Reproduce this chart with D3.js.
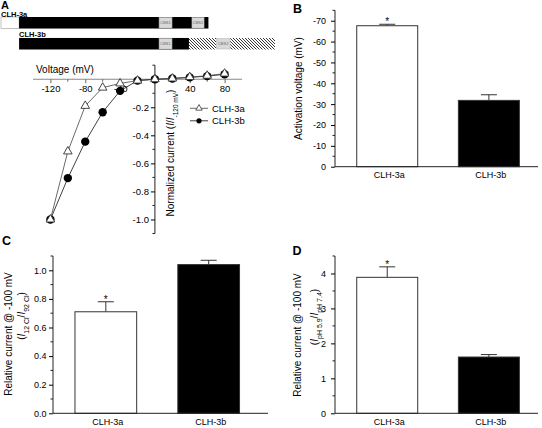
<!DOCTYPE html>
<html><head><meta charset="utf-8">
<script src="https://cdn.jsdelivr.net/npm/d3@7"></script>
<style>body{margin:0;background:#fff}svg{display:block;font-family:"Liberation Sans",Arial,sans-serif}</style>
</head><body><svg id="c" width="542" height="428"></svg>
<script>
// ---------- DATA ----------
// Panel A schematic (arbitrary residue units 0-1000)
const isoforms = ["CLH-3a", "CLH-3b"];
const segStart = [0, 66, 577, 697, 66, 577, 686, 786, 836];
const segEnd   = [66, 757, 624, 741, 686, 624, 785, 836, 1000];
const segIso   = ["CLH-3a","CLH-3a","CLH-3a","CLH-3a","CLH-3b","CLH-3b","CLH-3b","CLH-3b","CLH-3b"];
const segKind  = ["nterm","core","cbs","cbs","core","cbs","hatch","cbs","hatch"];
const segLabel = ["","","CBS1","CBS2","","CBS1","","CBS2",""];

// Panel A I-V curve
const voltages = [-120, -100, -80, -60, -40, -20, 0, 20, 40, 60, 80];
const ivA    = [-1.0, -0.515, -0.19, -0.06, -0.03, -0.01, 0, 0.005, 0.015, 0.025, 0.04];
const ivB    = [-1.0, -0.705, -0.445, -0.235, -0.083, -0.01, 0, 0.005, 0.013, 0.022, 0.035];
const ivErrA = [0, 0.012, 0.01, 0.006, 0.005, 0.003, 0, 0.003, 0.005, 0.006, 0.01];
const ivErrB = [0, 0.015, 0.02, 0.015, 0.012, 0.005, 0, 0.004, 0.006, 0.008, 0.012];
const ivXLabels = [-120, -80, -40, 40, 80];
const ivYLabels = [-1.0, -0.8, -0.6, -0.4, -0.2];

// Panels B-D
const barCats = ["CLH-3a", "CLH-3b"];
const activationV = [-67.6, -31.8];
const activationErr = [0.7, 2.7];
const clRatio = [0.71, 1.04];
const clErr = [0.07, 0.03];
const phRatio = [3.89, 1.61];
const phErr = [0.30, 0.07];
const bTicks = [0, -10, -20, -30, -40, -50, -60, -70];
const cTicks = [0, 0.2, 0.4, 0.6, 0.8, 1.0];
const dTicks = [0, 1, 2, 3, 4];

// ---------- DRAW ----------
const svg = d3.select("#c");
svg.append("rect").attr("width", 542).attr("height", 428).attr("fill", "#fff");

const defs = svg.append("defs");
const pat = defs.append("pattern").attr("id", "hatch").attr("patternUnits", "userSpaceOnUse")
  .attr("width", 3).attr("height", 3);
pat.append("rect").attr("width", 3).attr("height", 3).attr("fill", "#fff");
pat.append("path").attr("d", "M-1,-1 L4,4 M-1,2 L1,4 M2,-1 L4,1")
  .attr("stroke", "#222").attr("stroke-width", 0.9);

function letter(x, y, t, fs) {
  svg.append("text").attr("x", x).attr("y", y).attr("font-size", fs || 12.5)
    .attr("font-weight", "bold").text(t);
}

// ---- Panel A schematic ----
letter(1, 9, "A", 11);
const sx = d3.scaleLinear().domain([0, 1000]).range([1, 275]);
const sy = d3.scaleBand().domain(isoforms).range([17, 49.5]).paddingInner(0.45).paddingOuter(0);
const segs = segStart.map((s, i) => ({ s, e: segEnd[i], iso: segIso[i], kind: segKind[i], label: segLabel[i] }));
const order = ["nterm", "core", "hatch", "cbs"];
segs.sort((a, b) => order.indexOf(a.kind) - order.indexOf(b.kind));
const sg = svg.append("g");
sg.selectAll("rect").data(segs).join("rect")
  .attr("x", d => sx(d.s)).attr("width", d => sx(d.e) - sx(d.s))
  .attr("y", d => sy(d.iso) + (d.kind === "cbs" ? 0.5 : 0))
  .attr("height", d => sy.bandwidth() - (d.kind === "cbs" ? 1 : 0))
  .attr("fill", d => d.kind === "core" ? "#000" : d.kind === "hatch" ? "url(#hatch)" : d.kind === "cbs" ? "#d9d9d9" : "#fff")
  .attr("stroke", d => d.kind === "nterm" ? "#999" : d.kind === "cbs" ? "#bbb" : "none")
  .attr("stroke-width", 0.6);
sg.selectAll("text.cbs").data(segs.filter(d => d.label)).join("text")
  .attr("x", d => (sx(d.s) + sx(d.e)) / 2).attr("y", d => sy(d.iso) + sy.bandwidth() / 2 + 1.5)
  .attr("text-anchor", "middle").attr("font-size", 4).attr("fill", "#666").text(d => d.label);
svg.append("text").attr("x", 1).attr("y", 16.8).attr("font-size", 7.5).attr("font-weight", "bold").text("CLH-3a");
svg.append("text").attr("x", sx(66)).attr("y", 36.8).attr("font-size", 7.5).attr("font-weight", "bold").text("CLH-3b");

// ---- Panel A I-V ----
const ivX = d3.scaleLinear().domain([-140, 100]).range([33, 242]);
const ivY = d3.scaleLinear().domain([-1.1, 0.1]).range([233.5, 65.2]);
const iv = svg.append("g");
// x axis
iv.append("line").attr("x1", ivX(-140)).attr("x2", ivX(100)).attr("y1", ivY(0)).attr("y2", ivY(0))
  .attr("stroke", "#888").attr("stroke-width", 1.2);
const xa = iv.append("g").attr("transform", `translate(0,${ivY(0)})`)
  .call(d3.axisBottom(ivX).tickValues(ivXLabels).tickSize(4).tickPadding(2.5).tickFormat(d => String(d)));
xa.select(".domain").remove();
xa.selectAll("text").attr("font-size", 9.5).attr("font-family", null);
xa.selectAll("line").attr("stroke", "#666");
iv.selectAll("line.xm").data([-100, -60, -20, 20, 60]).join("line")
  .attr("x1", d => ivX(d)).attr("x2", d => ivX(d)).attr("y1", ivY(0)).attr("y2", ivY(0) + 2.5).attr("stroke", "#666");
// y axis
iv.append("line").attr("x1", ivX(0)).attr("x2", ivX(0)).attr("y1", ivY(0.1)).attr("y2", ivY(-1.1))
  .attr("stroke", "#222").attr("stroke-width", 1);
const ya = iv.append("g").attr("transform", `translate(${ivX(0)},0)`)
  .call(d3.axisLeft(ivY).tickValues(ivYLabels).tickSize(4).tickPadding(2).tickFormat(d => d.toFixed(1)));
ya.select(".domain").remove();
ya.selectAll("text").attr("font-size", 9.5).attr("font-family", null);
iv.selectAll("line.ym").data([0.1, -0.1, -0.3, -0.5, -0.7, -0.9, -1.1]).join("line")
  .attr("x1", ivX(0) - 2.5).attr("x2", ivX(0)).attr("y1", d => ivY(d)).attr("y2", d => ivY(d)).attr("stroke", "#222");
iv.append("text").attr("x", 36).attr("y", 73).attr("font-size", 10).text("Voltage (mV)");
const yt = iv.append("text").attr("transform", `translate(173.5,153) rotate(-90)`)
  .attr("text-anchor", "middle").attr("font-size", 10);
yt.append("tspan").text("Normalized current (");
yt.append("tspan").attr("font-style", "italic").text("I");
yt.append("tspan").text("/");
yt.append("tspan").attr("font-style", "italic").text("I");
yt.append("tspan").attr("font-size", 6.5).attr("baseline-shift", "sub").text("-120 mV");
yt.append("tspan").text(")");

const line = d3.line().x((d, i) => ivX(voltages[i])).y(d => ivY(d));
function errBars(vals, errs, col) {
  const g = iv.append("g").attr("stroke", col).attr("stroke-width", 0.8);
  vals.forEach((v, i) => {
    if (!errs[i]) return;
    const x = ivX(voltages[i]);
    g.append("line").attr("x1", x).attr("x2", x).attr("y1", ivY(v - errs[i])).attr("y2", ivY(v + errs[i]));
    [v - errs[i], v + errs[i]].forEach(e => g.append("line").attr("x1", x - 2).attr("x2", x + 2).attr("y1", ivY(e)).attr("y2", ivY(e)));
  });
}
// series B (circles)
iv.append("path").datum(ivB).attr("d", line).attr("fill", "none").attr("stroke", "#111").attr("stroke-width", 0.8);
errBars(ivB, ivErrB, "#111");
iv.selectAll("circle.b").data(ivB).join("circle").attr("cx", (d, i) => ivX(voltages[i])).attr("cy", d => ivY(d))
  .attr("r", 4.2).attr("fill", "#000");
// series A (triangles)
iv.append("path").datum(ivA).attr("d", line).attr("fill", "none").attr("stroke", "#444").attr("stroke-width", 0.8);
errBars(ivA, ivErrA, "#444");
const tri = d3.symbol().type(d3.symbolTriangle).size(32);
iv.selectAll("path.a").data(ivA).join("path").attr("d", tri)
  .attr("transform", (d, i) => `translate(${ivX(voltages[i])},${ivY(d)})`)
  .attr("fill", "#fff").attr("stroke", "#333").attr("stroke-width", 0.9);
// legend
const lg = iv.append("g").attr("font-size", 9.5);
[["CLH-3a", 108.3], ["CLH-3b", 120.8]].forEach(([name, y], k) => {
  lg.append("line").attr("x1", 190).attr("x2", 208).attr("y1", y).attr("y2", y).attr("stroke", k ? "#111" : "#444").attr("stroke-width", 0.8);
  if (k) lg.append("circle").attr("cx", 199).attr("cy", y).attr("r", 2.6).attr("fill", "#000");
  else lg.append("path").attr("d", d3.symbol().type(d3.symbolTriangle).size(18)).attr("transform", `translate(199,${y})`)
    .attr("fill", "#fff").attr("stroke", "#333").attr("stroke-width", 0.8);
  lg.append("text").attr("x", 212).attr("y", y + 3.5).text(name);
});

// ---- Bar panels ----
function barPanel(o) {
  const g = svg.append("g");
  const x = d3.scaleBand().domain(barCats).range(o.xr).paddingInner(0.4).paddingOuter(0.2);
  const y = d3.scaleLinear().domain(o.yd).range(o.yr);
  const sign = o.yd[1] < 0 ? -1 : 1;
  // error bars (behind bars)
  const eg = g.append("g").attr("stroke", "#333").attr("stroke-width", 1);
  o.vals.forEach((v, i) => {
    const cx = x(barCats[i]) + x.bandwidth() / 2;
    const top = y(v + sign * o.errs[i]);
    eg.append("line").attr("x1", cx).attr("x2", cx).attr("y1", y(v)).attr("y2", top);
    eg.append("line").attr("x1", cx - 8).attr("x2", cx + 8).attr("y1", top).attr("y2", top);
  });
  g.selectAll("rect.bar").data(o.vals).join("rect")
    .attr("x", (d, i) => x(barCats[i])).attr("width", x.bandwidth())
    .attr("y", d => Math.min(y(0), y(d))).attr("height", d => Math.abs(y(d) - y(0)))
    .attr("fill", (d, i) => i ? "#000" : "#fff").attr("stroke", "#333").attr("stroke-width", 1);
  // star
  const cx0 = x(barCats[0]) + x.bandwidth() / 2;
  g.append("text").attr("x", cx0).attr("y", y(o.vals[0] + sign * o.errs[0]) + 1).attr("text-anchor", "middle")
    .attr("font-size", 10).attr("fill", "#000").text("*");
  // axes
  g.append("line").attr("x1", o.ax).attr("x2", o.ax).attr("y1", o.yr[1]).attr("y2", y(0)).attr("stroke", "#222");
  g.append("line").attr("x1", o.ax).attr("x2", o.axR).attr("y1", y(0)).attr("y2", y(0)).attr("stroke", "#222");
  const a = g.append("g").attr("transform", `translate(${o.ax},0)`)
    .call(d3.axisLeft(y).tickValues(o.ticks).tickSize(4).tickPadding(o.pad).tickFormat(o.fmt));
  a.select(".domain").remove();
  a.selectAll("text").attr("font-size", 9).attr("font-family", null);
  g.selectAll("line.minor").data(o.minor).join("line")
    .attr("x1", o.ax - 2.5).attr("x2", o.ax).attr("y1", d => y(d)).attr("y2", d => y(d)).attr("stroke", "#222");
  g.selectAll("text.cat").data(barCats).join("text")
    .attr("x", d => x(d) + x.bandwidth() / 2 + 2).attr("y", y(0) + 11.5).attr("text-anchor", "middle")
    .attr("font-size", 9).text(d => d);
  return g;
}

// B
letter(293, 13, "B");
barPanel({ xr: [336.4, 539.7], yd: [0, -75], yr: [166.7, 10.3], ax: 335, axR: 538,
  vals: activationV, errs: activationErr, ticks: bTicks, pad: 5, fmt: d => String(d),
  minor: d3.range(-5, -76, -10) });
svg.append("text").attr("transform", "translate(301.5,88.5) rotate(-90)").attr("text-anchor", "middle")
  .attr("font-size", 10).text("Activation voltage (mV)");

// C
letter(2, 245, "C");
barPanel({ xr: [54.4, 260.1], yd: [0, 1.1], yr: [413.3, 256], ax: 53, axR: 268,
  vals: clRatio, errs: clErr, ticks: cTicks, pad: 2.6, fmt: d => d.toFixed(1),
  minor: [0.1, 0.3, 0.5, 0.7, 0.9, 1.1] });
svg.append("text").attr("transform", "translate(12,334) rotate(-90)").attr("text-anchor", "middle")
  .attr("font-size", 10).text("Relative current @ -100 mV");
const ct = svg.append("text").attr("transform", "translate(25,316) rotate(-90)").attr("text-anchor", "middle").attr("font-size", 10);
ct.append("tspan").text("(");
ct.append("tspan").attr("font-style", "italic").text("I");
ct.append("tspan").attr("font-size", 7).attr("baseline-shift", "sub").text("12 Cl");
ct.append("tspan").text("/");
ct.append("tspan").attr("font-style", "italic").text("I");
ct.append("tspan").attr("font-size", 7).attr("baseline-shift", "sub").text("92 Cl");
ct.append("tspan").text(")");

// D
letter(292.5, 255, "D");
barPanel({ xr: [336.4, 539.7], yd: [0, 4.5], yr: [413.3, 256], ax: 335, axR: 538,
  vals: phRatio, errs: phErr, ticks: dTicks, pad: 5, fmt: d => String(d),
  minor: [0.5, 1.5, 2.5, 3.5, 4.5] });
svg.append("text").attr("transform", "translate(301,335) rotate(-90)").attr("text-anchor", "middle")
  .attr("font-size", 10).text("Relative current @ -100 mV");
const dt = svg.append("text").attr("transform", "translate(318,317) rotate(-90)").attr("text-anchor", "middle").attr("font-size", 10);
dt.append("tspan").text("(");
dt.append("tspan").attr("font-style", "italic").text("I");
dt.append("tspan").attr("font-size", 7).attr("baseline-shift", "sub").text("pH 5.9");
dt.append("tspan").text("/");
dt.append("tspan").attr("font-style", "italic").text("I");
dt.append("tspan").attr("font-size", 7).attr("baseline-shift", "sub").text("pH 7.4");
dt.append("tspan").text(")");
</script></body></html>
